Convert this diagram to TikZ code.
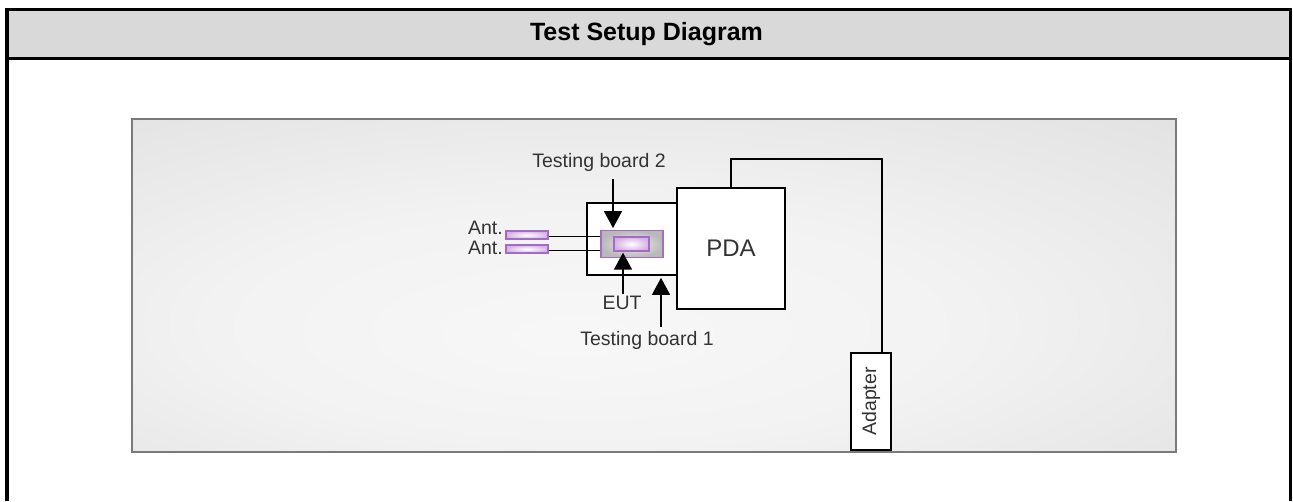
\documentclass[tikz,border=0pt]{standalone}
\usepackage{fontspec}
\setmainfont{Liberation Sans}
\usepackage{tikz}
\usetikzlibrary{arrows.meta,positioning,calc}

\definecolor{hdrgray}{HTML}{D9D9D9}
\definecolor{panelline}{HTML}{7A7A7A}
\definecolor{antline}{HTML}{A36BC2}
\definecolor{antfill}{HTML}{D6B3E6}
\definecolor{txtgray}{HTML}{333333}

\pgfdeclareradialshading{panelshade}{\pgfpoint{-4bp}{-8bp}}{%
  color(0bp)=(white!97!black); color(18bp)=(white!95!black);
  color(42bp)=(white!88!black); color(72bp)=(white!80!black)}

\tikzset{
  box/.style={draw, line width=1.6pt, fill=white, inner sep=0pt},
  lbl/.style={inner sep=0pt, text=txtgray, font=\fontsize{19.5}{22}\selectfont},
  pointer/.style={line width=1.4pt, -{Triangle[width=18pt,length=17pt]}},
  purplebox/.style={draw=antline, line width=1.3pt, inner sep=0pt},
}

\begin{document}
\begin{tikzpicture}[x=1pt, y=-1pt]
      \useasboundingbox (0,0) rectangle (1293,501);

      % header band and frame
      \fill[hdrgray] (7,9) rectangle (1290.5,58.5);
      \draw[line width=2.5pt] (7,58.5) -- (1290.5,58.5);
      \draw[line width=4pt] (7,501) -- (7,9);
      \draw[line width=3pt] (5,9) -- (1292,9);
      \draw[line width=3pt] (1290.5,9) -- (1290.5,501);
      \node[inner sep=0pt, font=\bfseries\fontsize{25}{28}\selectfont] (title) at (646.5,34) {Test Setup Diagram};

      % grey panel
      \node[draw=panelline, line width=2pt, shading=panelshade, minimum width=1044, minimum height=333, inner sep=0pt] (panel) at (654,285.5) {};

      % boards and PDA
      \node[box, minimum width=90, minimum height=72] (board1) at (632,239) {};
      \node[box, minimum width=108, minimum height=121, font=\fontsize{24}{28}\selectfont, text=txtgray] (pda) at (731,248.5) {PDA};
      \node[purplebox, shading=radial, inner color=gray!12, outer color=gray!55, minimum width=62, minimum height=26.5] (board2) at (632,244) {};
      \node[purplebox, shading=radial, inner color=white, outer color=antfill, minimum width=35, minimum height=14] (eut) at (631.5,244) {};

      % antennas
      \node[purplebox, shading=radial, inner color=white, outer color=antfill, minimum width=42, minimum height=8] (ant1) at (527,235) {};
      \node[purplebox, shading=radial, inner color=white, outer color=antfill, minimum width=42, minimum height=8] (ant2) at (527,249) {};
      \node[lbl, anchor=east] (antlab1) at (503,228) {Ant.};
      \node[lbl, anchor=east] (antlab2) at (503,248) {Ant.};
      \draw[line width=1.3pt] ([yshift=-1.5pt]ant1.east) -- ([yshift=-1.5pt]ant1.east -| board2.west);
      \draw[line width=1.3pt] ([yshift=-1.5pt]ant2.east) -- ([yshift=-1.5pt]ant2.east -| board2.west);

      % adapter and cable
      \node[box, rotate=90, minimum width=97, minimum height=40, font=\fontsize{19.5}{22}\selectfont, text=txtgray] (adapter) at (871,401.5) {Adapter};
      \coordinate (bend) at (882,159);
      \draw[line width=1.6pt] (pda.north) |- (bend) -- (bend |- adapter.east);

      % labels with pointers
      \node[lbl] (tb2) at (599,162) {Testing board 2};
      \node[lbl] (eutlab) at (622,303) {EUT};
      \node[lbl] (tb1) at (647,340) {Testing board 1};
      \draw[pointer] ([xshift=14pt, yshift=-8pt]tb2.south) -- ([xshift=14pt, yshift=2pt]tb2.south |- board2.north);
      \draw[pointer] ([xshift=1pt, yshift=2pt]eutlab.north) -- ([xshift=1pt, yshift=-1pt]eutlab.north |- eut.south);
      \draw[pointer] ([xshift=14pt, yshift=4pt]tb1.north) -- ([xshift=14pt, yshift=-2pt]tb1.north |- board1.south);
    \end{tikzpicture}
\end{document}
